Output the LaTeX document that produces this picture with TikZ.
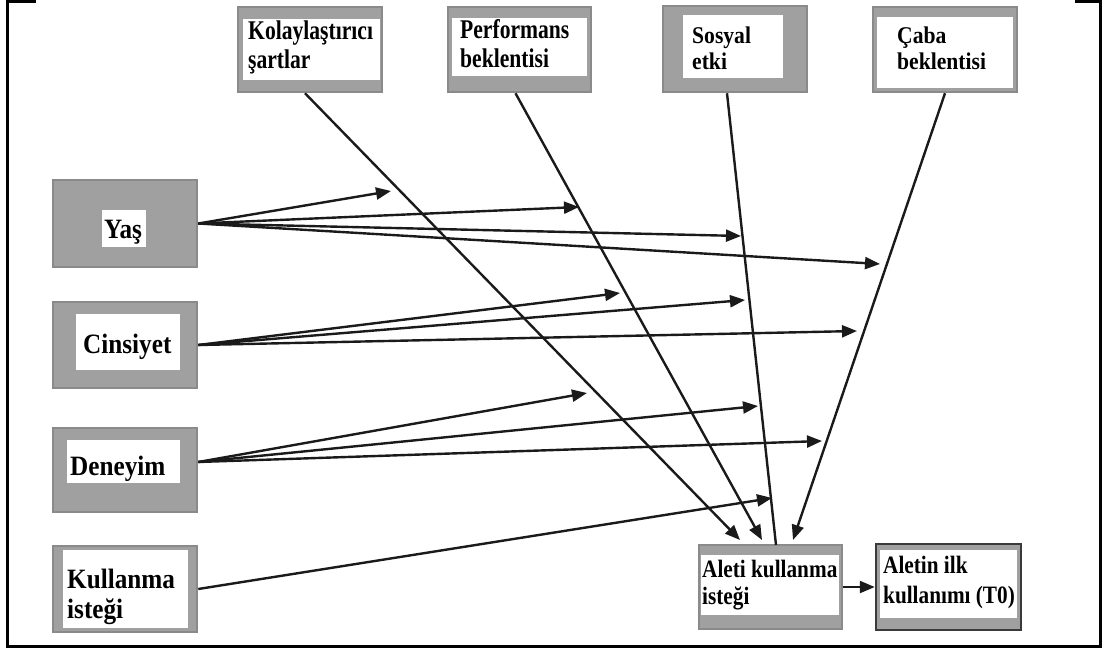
\documentclass[tikz,border=0pt]{standalone}
\usepackage{fontspec}
\setmainfont{Liberation Serif}
\newfontfamily\narrowserif{Liberation Serif}[FakeStretch=0.8]
\newfontfamily\outcomeserif{Liberation Serif}[FakeStretch=0.85]
\newfontfamily\labelserif{Liberation Serif}[FakeStretch=0.9]
\usetikzlibrary{arrows.meta}

\definecolor{boxgray}{HTML}{A0A0A0}
\definecolor{boxedge}{HTML}{8A8A8A}
\definecolor{darkedge}{HTML}{3A3A3A}
\definecolor{ink}{HTML}{1A1A1A}

\tikzset{
  outerbox/.style={draw=boxedge, line width=2.5pt, fill=boxgray, inner sep=0pt},
  lefttext/.style={font=\labelserif\fontsize{28}{32}\selectfont\bfseries, anchor=base west, inner sep=0pt},
  toptext/.style={font=\narrowserif\fontsize{27}{30}\selectfont\bfseries, anchor=base west, inner sep=0pt},
  smalltext/.style={font=\labelserif\fontsize{24}{26}\selectfont\bfseries, anchor=base west, inner sep=0pt},
  outtext/.style={font=\outcomeserif\fontsize{25}{29}\selectfont\bfseries, anchor=base west, inner sep=0pt},
  link/.style={draw=ink, line width=2.4pt, -{Triangle[length=15pt,width=12pt]}},
  plainlink/.style={draw=ink, line width=2.4pt},
  frameline/.style={draw=black, line width=3pt}
}

\begin{document}
\begin{tikzpicture}[x=1pt, y=-1pt]
\useasboundingbox (0,0) rectangle (1103,650);

% page frame
\draw[frameline] (7,0) -- (7,646) -- (1100,646) -- (1100,0);
\draw[frameline] (5.5,1.5) -- (36,1.5);
\draw[frameline] (1075,1.5) -- (1101.5,1.5);

% top constructs
\node[outerbox, minimum width=144pt, minimum height=85pt] (kol) at (310,49.5) {};
\fill[white] (243,19) rectangle (380,80);
\node[toptext] (kolA) at (248,40) {Kolaylaştırıcı};
\node[toptext] (kolB) at (248,69) {şartlar};

\node[outerbox, minimum width=143pt, minimum height=85pt] (perf) at (519.5,49.5) {};
\fill[white] (452,18) rectangle (587,76);
\node[toptext] (perfA) at (460,39) {Performans};
\node[toptext] (perfB) at (460,68) {beklentisi};

\node[outerbox, minimum width=144pt, minimum height=86pt] (sos) at (735,49) {};
\fill[white] (683,15) rectangle (783,78);
\node[smalltext] (sosA) at (692,44) {Sosyal};
\node[smalltext] (sosB) at (692,70) {etki};

\node[outerbox, minimum width=144pt, minimum height=85pt] (caba) at (945,49.5) {};
\fill[white] (877,17) rectangle (1013,88);
\node[smalltext] (cabaA) at (897,44) {Çaba};
\node[smalltext] (cabaB) at (897,70) {beklentisi};

% moderators
\node[outerbox, minimum width=144pt, minimum height=87pt] (yas) at (125,223.5) {};
\fill[white] (102,210) rectangle (146,247);
\node[lefttext] (yasA) at (104,238) {Yaş};

\node[outerbox, minimum width=144pt, minimum height=86pt] (cins) at (125,345) {};
\fill[white] (76,314) rectangle (180,370);
\node[lefttext] (cinsA) at (83,353) {Cinsiyet};

\node[outerbox, minimum width=144pt, minimum height=84pt] (den) at (125,470) {};
\fill[white] (67,440) rectangle (180,483);
\node[lefttext] (denA) at (70,475) {Deneyim};

\node[outerbox, minimum width=144pt, minimum height=86pt] (kul) at (125,589) {};
\fill[white] (63,550) rectangle (188,628);
\node[lefttext] (kulA) at (67,588) {Kullanma};
\node[lefttext] (kulB) at (67,618) {isteği};

% outcomes
\node[outerbox, minimum width=143pt, minimum height=84pt] (aleti) at (770.5,587) {};
\fill[white] (701,555) rectangle (839,615);
\node[outtext] (aletiA) at (702,577) {Aleti kullanma};
\node[outtext] (aletiB) at (702,604) {isteği};

\node[outerbox, draw=darkedge, minimum width=145pt, minimum height=86pt] (aletin) at (948.5,587) {};
\fill[white] (880,550) rectangle (1017,618);
\node[outtext] (aletinA) at (883,573) {Aletin ilk};
\node[outtext] (aletinB) at (883,603) {kullanımı (T0)};

% arrow end points
\coordinate (tKol) at (740,540);
\coordinate (tPerf) at (762,540);
\coordinate (tSos) at (776,545);
\coordinate (tCaba) at (793,540);

\coordinate (y1) at (391,191);
\coordinate (y2) at (579,207);
\coordinate (y3) at (741,236);
\coordinate (y4) at (880,264);

\coordinate (c1) at (620,293);
\coordinate (c2) at (745,300);
\coordinate (c3) at (857,331);

\coordinate (d1) at (587,393);
\coordinate (d2) at (758,406);
\coordinate (d3) at (822,441);

\coordinate (k1) at (772,498);

% direct effects on intention
\draw[link] ([xshift=-5pt]kol.south) -- (tKol);
\draw[link] ([xshift=-4pt]perf.south) -- (tPerf);
\draw[plainlink] ([xshift=-8pt]sos.south) -- (tSos);
\draw[link] (caba.south) -- (tCaba);

% moderating effects
\draw[link] (yas.east) -- (y1);
\draw[link] (yas.east) -- (y2);
\draw[link] (yas.east) -- (y3);
\draw[link] (yas.east) -- (y4);

\draw[link] (cins.east) -- (c1);
\draw[link] (cins.east) -- (c2);
\draw[link] (cins.east) -- (c3);

\draw[link] ([yshift=8pt]den.east) -- (d1);
\draw[link] ([yshift=8pt]den.east) -- (d2);
\draw[link] ([yshift=8pt]den.east) -- (d3);

\draw[link] (kul.east) -- (k1);

% intention to first use
\draw[link] (aleti.east) -- (aletin.west);
\end{tikzpicture}
\end{document}
